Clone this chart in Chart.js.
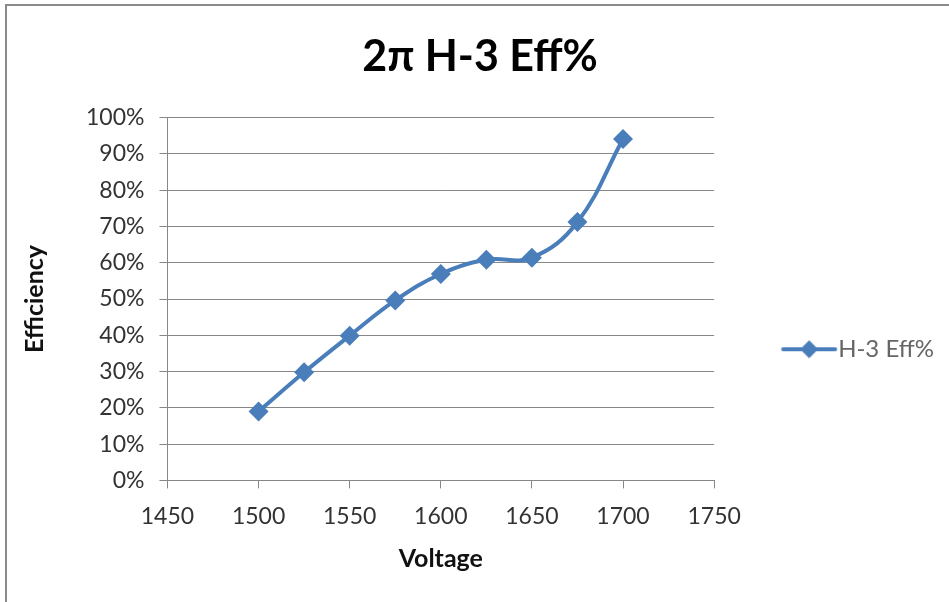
<!DOCTYPE html>
<html>
<head>
<meta charset="utf-8">
<script src="https://cdn.jsdelivr.net/npm/chart.js@4.4.1/dist/chart.umd.min.js"></script>
<style>
  html, body { margin: 0; padding: 0; background: #fff; }
  #frame {
    position: absolute; left: 5px; top: 4px; width: 944px; height: 598px;
    border-left: 2px solid #8a8a8a; border-top: 2px solid #8a8a8a;
  }
  #wrap { position: absolute; left: 0; top: 0; width: 942px; height: 596px; }
</style>
</head>
<body>
<div id="frame"><div id="wrap"><canvas id="effChart"></canvas></div></div>
<script>
// data
let voltage = [1500, 1525, 1550, 1575, 1600, 1625, 1650, 1675, 1700];
let efficiency = [19.0, 29.8, 39.9, 49.6, 56.9, 60.8, 61.4, 71.2, 94.1];
let xTicks = [1450, 1500, 1550, 1600, 1650, 1700, 1750];
let yTicks = [0, 10, 20, 30, 40, 50, 60, 70, 80, 90, 100];

const blue = '#4a7ebb';
const grid = '#878787';
const font = "Lato, 'Liberation Sans', sans-serif";

// legend symbol: line with diamond, like the spreadsheet legend
// (image is wider than the box on the left so the line sits close to the text)
let sym = document.createElement('canvas');
sym.width = 72; sym.height = 22;
let sctx = sym.getContext('2d');
sctx.strokeStyle = blue; sctx.lineWidth = 4; sctx.lineCap = 'round';
sctx.beginPath(); sctx.moveTo(17, 11); sctx.lineTo(69, 11); sctx.stroke();
sctx.fillStyle = blue;
sctx.beginPath(); sctx.moveTo(43, 2); sctx.lineTo(52, 11); sctx.lineTo(43, 20); sctx.lineTo(34, 11); sctx.closePath(); sctx.fill();

let ctx = document.getElementById('effChart').getContext('2d');
let chart = new Chart(ctx, {
    type: 'line',
    data: {
        datasets: [{
            label: 'H-3 Eff%',
            data: voltage.map((v, i) => ({x: v, y: efficiency[i]})),
            borderColor: blue,
            backgroundColor: blue,
            borderWidth: 4,
            tension: 0.4,
            pointStyle: 'rectRot',
            pointRadius: 10,
            pointHoverRadius: 10,
            pointBorderWidth: 0,
        }]
    },
    options: {
        responsive: true,
        maintainAspectRatio: false,
        animation: false,
        layout: { padding: { left: 9, right: 5, top: 0, bottom: 28 } },
        plugins: {
            title: {
                display: true,
                text: '2π H-3 Eff%',
                color: '#000',
                font: { family: font, size: 43, weight: 'bold' },
                padding: { top: 25, bottom: 35 }
            },
            legend: {
                position: 'right',
                title: { display: true, text: ' ', font: { size: 12 }, padding: { top: 104, bottom: 0 } },
                labels: {
                    usePointStyle: true,
                    pointStyleWidth: 48,
                    padding: 64,
                    color: '#222',
                    font: { family: font, size: 24 },
                    generateLabels: (c) => [{
                        text: c.data.datasets[0].label,
                        pointStyle: sym,
                        fillStyle: blue,
                        strokeStyle: blue,
                        lineWidth: 0,
                        datasetIndex: 0
                    }]
                }
            },
            tooltip: { enabled: false }
        },
        scales: {
            x: {
                type: 'linear',
                min: xTicks[0],
                max: xTicks[xTicks.length - 1],
                afterBuildTicks: (s) => { s.ticks = xTicks.map(v => ({value: v})); },
                grid: { drawOnChartArea: false, color: grid, tickLength: 8, tickColor: grid },
                border: { color: grid, width: 1 },
                ticks: { color: '#333', font: { family: font, size: 23 }, padding: 14, maxRotation: 0, callback: (v) => String(v) },
                title: { display: true, text: 'Voltage', color: '#111', font: { family: font, size: 25, weight: 'bold' }, padding: { top: 0, bottom: 0 } }
            },
            y: {
                min: yTicks[0],
                max: yTicks[yTicks.length - 1],
                afterBuildTicks: (s) => { s.ticks = yTicks.map(v => ({value: v})); },
                grid: { color: grid, tickLength: 8, tickColor: grid },
                border: { color: grid, width: 1 },
                ticks: { color: '#333', font: { family: font, size: 23 }, padding: 15, callback: (v) => v + '%' },
                title: { display: true, text: 'Efficiency', color: '#111', font: { family: font, size: 25, weight: 'bold' }, padding: { top: 4, bottom: 21 } }
            }
        }
    }
});
</script>
</body>
</html>
